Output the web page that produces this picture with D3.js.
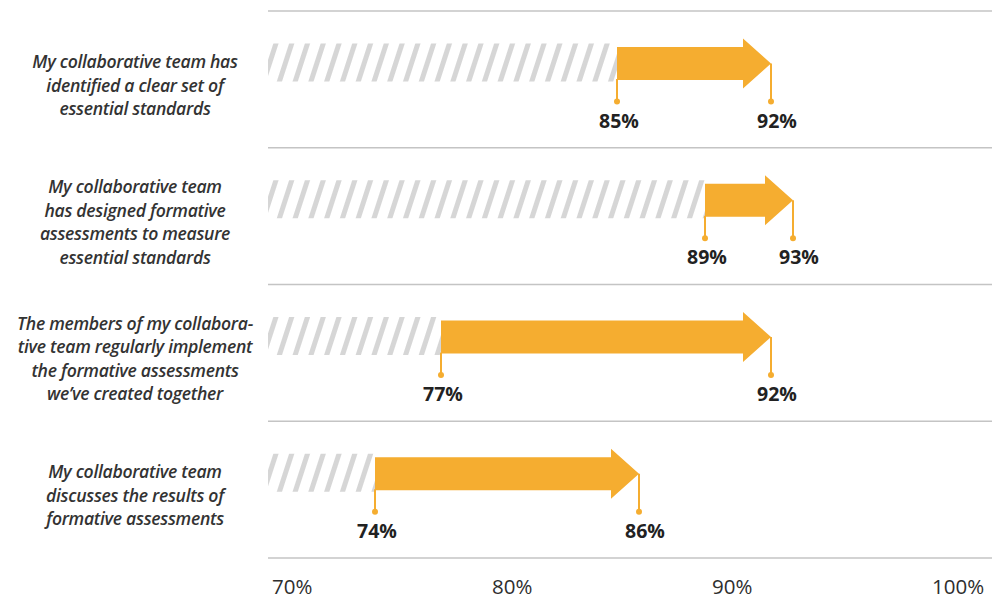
<!DOCTYPE html>
<html>
<head>
<meta charset="utf-8">
<script src="https://cdn.jsdelivr.net/npm/d3@7"></script>
<style>
  html, body { margin: 0; padding: 0; background: #fff; }
  svg { display: block; }
</style>
</head>
<body>
<svg id="chart" width="992" height="599"></svg>
<script>
// Survey statements, one per row (line breaks as typeset)
const categories = [
  ["My collaborative team has", "identified a clear set of", "essential standards"],
  ["My collaborative team", "has designed formative", "assessments to measure", "essential standards"],
  ["The members of my collabora-", "tive team regularly implement", "the formative assessments", "we\u2019ve created together"],
  ["My collaborative team", "discusses the results of", "formative assessments"]
];
const startValues = [85, 89, 77, 74];
const endValues   = [92, 93, 92, 86];
const tickValues  = [70, 80, 90, 100];

const W = 992, H = 599;
const orange = "#f5ad30";
const svg = d3.select("#chart");

const x = d3.scaleLinear().domain([70, 100]).range([287, 947]);
const rows = d3.scaleBand().domain(d3.range(categories.length)).range([11, 558]).padding(0);
const gridLeft = 268;

// hatched "baseline" pattern
const defs = svg.append("defs");
const pat = defs.append("pattern")
  .attr("id", "hatch")
  .attr("patternUnits", "userSpaceOnUse")
  .attr("width", 15).attr("height", 40)
  .attr("patternTransform", "rotate(18)");
pat.append("rect").attr("x", 0).attr("y", 0).attr("width", 5).attr("height", 40).attr("fill", "#d6d6d6");
defs.append("filter").attr("id", "soft")
  .append("feGaussianBlur").attr("stdDeviation", 0.7);

// horizontal grid lines between rows
const gridYs = rows.domain().map(i => rows(i)).concat([rows.range()[1]]);
svg.append("g").selectAll("line").data(gridYs).join("line")
  .attr("x1", gridLeft).attr("x2", W)
  .attr("y1", d => d).attr("y2", d => d)
  .attr("stroke", "#c4c4c4").attr("stroke-width", 1.5);

const rowG = svg.append("g").selectAll("g").data(categories).join("g")
  .attr("transform", (d, i) => `translate(0,${rows(i)})`);

const cy = 52.5;            // arrow centre within a row
const bodyH = 33, headH = 50, headL = 28;

// hatch from the axis start to the starting value
rowG.append("rect")
  .attr("x", gridLeft)
  .attr("y", cy - 20)
  .attr("width", (d, i) => x(startValues[i]) - gridLeft)
  .attr("height", 38)
  .attr("fill", "url(#hatch)")
  .attr("filter", "url(#soft)");

// arrows from start to end value
rowG.append("path")
  .attr("fill", orange)
  .attr("d", (d, i) => {
    const x0 = x(startValues[i]), xt = x(endValues[i]), xh = xt - headL;
    return `M${x0},${cy - bodyH / 2} L${xh},${cy - bodyH / 2} L${xh},${cy - headH / 2} ` +
           `L${xt},${cy} L${xh},${cy + headH / 2} L${xh},${cy + bodyH / 2} L${x0},${cy + bodyH / 2} Z`;
  });

// drop lines + dots
const dropY = cy + 38;
rowG.append("line")
  .attr("x1", (d, i) => x(startValues[i])).attr("x2", (d, i) => x(startValues[i]))
  .attr("y1", cy + bodyH / 2 - 1).attr("y2", dropY)
  .attr("stroke", orange).attr("stroke-width", 2);
rowG.append("line")
  .attr("x1", (d, i) => x(endValues[i])).attr("x2", (d, i) => x(endValues[i]))
  .attr("y1", cy).attr("y2", dropY)
  .attr("stroke", orange).attr("stroke-width", 2);
rowG.append("circle")
  .attr("cx", (d, i) => x(startValues[i])).attr("cy", dropY).attr("r", 3).attr("fill", orange);
rowG.append("circle")
  .attr("cx", (d, i) => x(endValues[i])).attr("cy", dropY).attr("r", 3).attr("fill", orange);

// value labels
const valueStyle = sel => sel
  .attr("y", cy + 64)
  .attr("text-anchor", "middle")
  .attr("font-family", "'Open Sans', sans-serif")
  .attr("font-weight", 700)
  .attr("font-size", 19.5)
  .attr("fill", "#222");
rowG.append("text").call(valueStyle)
  .attr("x", (d, i) => x(startValues[i]) + 2)
  .text((d, i) => startValues[i] + "%");
rowG.append("text").call(valueStyle)
  .attr("x", (d, i) => x(endValues[i]) + 6)
  .text((d, i) => endValues[i] + "%");

// statement text
const lineH = 23.5;
rowG.append("text")
  .attr("text-anchor", "middle")
  .attr("font-family", "'Open Sans', sans-serif")
  .attr("font-style", "italic")
  .attr("font-weight", 600)
  .attr("font-size", 17.6)
  .attr("letter-spacing", -0.3)
  .attr("fill", "#333")
  .each(function(lines) {
    const t = d3.select(this);
    const mid = rows.bandwidth() / 2 + 6;
    const first = mid - (lines.length - 1) * lineH / 2;
    lines.forEach((ln, k) => {
      t.append("tspan").attr("x", 135).attr("y", first + k * lineH).attr("dy", "0.35em").text(ln);
    });
  });

// bottom axis labels
svg.append("g").selectAll("text").data(tickValues).join("text")
  .attr("x", d => x(d) - 15)
  .attr("y", 594)
  .attr("font-family", "'Open Sans', sans-serif")
  .attr("font-size", 20.5)
  .attr("fill", "#2e2e2e")
  .text(d => d + "%");
</script>
</body>
</html>
